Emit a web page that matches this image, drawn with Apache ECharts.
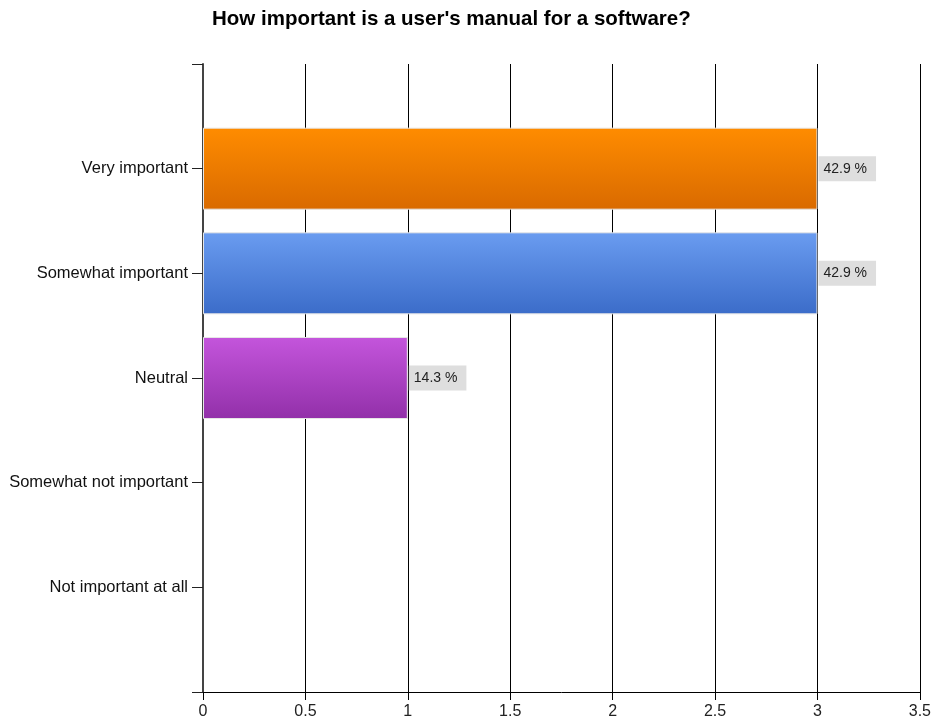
<!DOCTYPE html>
<html>
<head>
<meta charset="utf-8">
<script src="https://cdn.jsdelivr.net/npm/echarts@6/dist/echarts.min.js"></script>
<style>
  html, body { margin: 0; padding: 0; background: #fff; }
  #chart { width: 934px; height: 725px; }
</style>
</head>
<body>
<div id="chart"></div>
<script>
// Survey answers, top to bottom
const categories = ['Very important', 'Somewhat important', 'Neutral', 'Somewhat not important', 'Not important at all'];
const counts = [3, 3, 1, 0, 0];
const percentLabels = ['42.9 %', '42.9 %', '14.3 %', '', ''];
const barColors = [
  ['#ff8c00', '#d96a00'],
  ['#6a9cf0', '#3b6cc9'],
  ['#c455dc', '#9230a9']
];

const FONT = 'Liberation Sans, Arial, sans-serif';

// Blank slots above and below so the ticks sit on the plot edges
const axisCats = [''].concat(categories, ['']);
const barData = [null].concat(counts.map(function (v, i) {
  if (!v) return null;
  const c = barColors[i];
  return {
    value: v,
    itemStyle: {
      color: new echarts.graphic.LinearGradient(0, 0, 0, 1, [
        { offset: 0, color: c[0] },
        { offset: 1, color: c[1] }
      ])
    },
    label: { formatter: percentLabels[i] }
  };
}), [null]);

const chart = echarts.init(document.getElementById('chart'), null, { renderer: 'canvas' });
chart.setOption({
  animation: false,
  title: {
    text: "How important is a user's manual for a software?",
    left: 207,
    top: 4,
    textStyle: { fontFamily: FONT, fontSize: 20.5, fontWeight: 'bold', color: '#000' }
  },
  grid: { left: 203, right: 14, top: 64, bottom: 33, containLabel: false },
  xAxis: {
    type: 'value',
    min: 0,
    max: 3.5,
    interval: 0.5,
    axisLine: { show: true, lineStyle: { color: '#000', width: 1 } },
    axisTick: { show: true, length: 8, lineStyle: { color: '#000' } },
    splitLine: { show: true, lineStyle: { color: '#000', width: 1 } },
    axisLabel: {
      margin: 12,
      fontFamily: FONT,
      fontSize: 16,
      color: '#222'
    }
  },
  yAxis: {
    type: 'category',
    data: axisCats,
    inverse: true,
    boundaryGap: false,
    axisLine: { show: true, lineStyle: { color: '#444', width: 2 } },
    axisTick: { show: true, length: 11, interval: 0, lineStyle: { color: '#222' } },
    splitLine: { show: false },
    axisLabel: {
      margin: 15,
      interval: 0,
      padding: [3, 0, 0, 0],
      fontFamily: FONT,
      fontSize: 16.5,
      color: '#111'
    }
  },
  series: [{
    type: 'bar',
    data: barData,
    barWidth: 82,
    itemStyle: { borderColor: '#e6e6e6', borderWidth: 1 },
    label: {
      show: true,
      position: 'right',
      distance: 1,
      backgroundColor: '#dedede',
      padding: [6, 9, 5, 5],
      fontFamily: FONT,
      fontSize: 14,
      color: '#222'
    }
  }]
});
</script>
</body>
</html>
